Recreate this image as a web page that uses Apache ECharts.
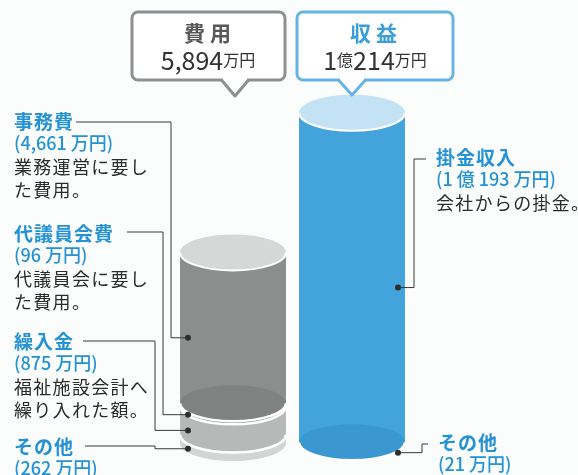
<!DOCTYPE html>
<html><head><meta charset="utf-8">
<script src="https://cdn.jsdelivr.net/npm/echarts@6/dist/echarts.min.js"></script>
<style>html,body{margin:0;padding:0;background:#fbfcfc}#c{width:578px;height:475px}</style>
</head><body><div id="c"></div>
<script>
// ---- data ----
const categories = ['費用', '収益'];
const expenseNames = ['その他', '繰入金', '代議員会費', '事務費'];
const expenseValues = [262, 875, 96, 4661];
const expenseNotes = [[], ['福祉施設会計へ', '繰り入れた額。'], ['代議員会に要し', 'た費用。'], ['業務運営に要し', 'た費用。']];
const revenueNames = ['その他', '掛金収入'];
const revenueValues = [21, 10193];
const revenueNotes = [[], ['会社からの掛金。']];

// ---- styles ----
const FONT = '"Noto Sans CJK JP", "Noto Sans", sans-serif';
const BLUE_TXT = '#2492d3';
const segStyles = [
  {body: '#d3d5d4', bottom: true},
  {body: '#b7b9b8'},
  {body: '#979999'},
  {body: '#8b8e8d', inner: '#7e8281', top: '#d6d8d8'},
  {body: '#c8e4f3', bottom: true},
  {body: '#43a3db', inner: '#3a97cf', top: '#c3e2f4'}
];
const RY = 18;

function sum(a) { return a.reduce((s, v) => s + v, 0); }
function fmtAmount(v) {
  if (v >= 10000) return '(' + Math.floor(v / 10000) + ' 億 ' + (v % 10000) + ' 万円)';
  return '(' + v.toLocaleString('en-US') + ' 万円)';
}

const data = [];
let acc = 0;
expenseValues.forEach((v, j) => { data.push([0, acc, acc + v, j]); acc += v; });
acc = 0;
revenueValues.forEach((v, j) => { data.push([1, acc, acc + v, 4 + j]); acc += v; });

function ellipsePath(cx, cy, rx, ry) {
  return `M${cx - rx},${cy} A${rx},${ry} 0 1 0 ${cx + rx},${cy} A${rx},${ry} 0 1 0 ${cx - rx},${cy} Z`;
}
function lowerArc(cx, cy, rx, ry) {
  return `M${cx - rx},${cy} A${rx},${ry} 0 0 0 ${cx + rx},${cy}`;
}

function renderItem(params, api) {
  const cat = api.value(0);
  const p0 = api.coord([cat, api.value(1)]);
  const p1 = api.coord([cat, api.value(2)]);
  const st = segStyles[api.value(3)];
  const cx = p0[0], yb = p0[1], yt = p1[1];
  const rx = api.size([1, 0])[0] * 0.445;
  const ch = [];
  ch.push({type: 'path', shape: {pathData:
    `M${cx - rx},${yt} L${cx + rx},${yt} L${cx + rx},${yb} A${rx},${RY} 0 0 1 ${cx - rx},${yb} Z`},
    style: {fill: st.body}});
  if (st.inner) ch.push({type: 'path', shape: {pathData: ellipsePath(cx, yb, rx, RY)}, style: {fill: st.inner}});
  if (!st.bottom) ch.push({type: 'path', shape: {pathData: lowerArc(cx, yb, rx, RY)},
    style: {fill: null, stroke: '#ffffff', lineWidth: 2.5}});
  if (st.top) {
    ch.push({type: 'path', shape: {pathData: ellipsePath(cx, yt, rx, RY)}, style: {fill: st.top}});
    ch.push({type: 'path', shape: {pathData: lowerArc(cx, yt, rx, RY)},
      style: {fill: null, stroke: '#ffffff', lineWidth: 2}});
  }
  return {type: 'group', children: ch};
}

const chart = echarts.init(document.getElementById('c'), null, {renderer: 'canvas'});
chart.setOption({
  backgroundColor: '#fbfcfc',
  animation: false,
  grid: {left: 173.5, width: 238, top: 55, height: 388},
  xAxis: {type: 'category', data: categories, show: false},
  yAxis: {type: 'value', min: 0, max: 12000, show: false},
  series: [{type: 'custom', renderItem: renderItem, data: data, clip: false}]
});

// ---- annotations ----
const g = [];
function txt(x, y, text, font, fill, align) {
  g.push({type: 'text', z: 10, style: {x: x, y: y, text: text, font: font, fill: fill,
    align: align || 'left', verticalAlign: 'middle'}});
}
// text with letter spacing (one rich token per character)
function spaced(x, y, text, font, fill, sp, align) {
  const s = Array.from(text).map(c => '{c|' + c + '}').join('');
  g.push({type: 'text', z: 10, style: {x: x, y: y, text: s, align: align || 'left', verticalAlign: 'middle',
    rich: {c: {font: font, fill: fill, padding: [0, sp, 0, 0]}}}});
}
function line(points) {
  g.push({type: 'polyline', z: 9, shape: {points: points}, style: {stroke: '#3a3a3a', lineWidth: 1, fill: null}});
}
function dot(x, y) {
  g.push({type: 'circle', z: 11, shape: {cx: x, cy: y, r: 3}, style: {fill: '#2e2e2e'}});
}
function callout(x0, x1, y0, y1, tipX, tipY, color) {
  g.push({type: 'rect', z: 8, shape: {x: x0, y: y0, width: x1 - x0, height: y1 - y0, r: 6},
    style: {fill: '#ffffff', stroke: color, lineWidth: 3}});
  g.push({type: 'rect', z: 8, shape: {x: tipX - 12, y: y1 - 2.5, width: 24, height: 5},
    style: {fill: '#ffffff'}});
  g.push({type: 'polygon', z: 8, shape: {points: [[tipX - 12, y1], [tipX, tipY], [tipX + 12, y1]]},
    style: {fill: '#ffffff'}});
  g.push({type: 'polyline', z: 8, shape: {points: [[tipX - 13.5, y1], [tipX, tipY], [tipX + 13.5, y1]]},
    style: {fill: null, stroke: color, lineWidth: 3, lineJoin: 'round'}});
}

// callouts
const expTotal = sum(expenseValues);
const revTotal = sum(revenueValues);
callout(132, 285, 12, 80, 235, 96, '#8e8f8f');
callout(297, 453, 12, 80, 352, 95, '#66b4e0');
spaced(210, 33, categories[0], 'bold 21px ' + FONT, '#595959', 5, 'center');
spaced(376, 33, categories[1], 'bold 21px ' + FONT, '#3a9ed8', 5, 'center');
g.push({type: 'text', z: 10, style: {x: 208, y: 60, align: 'center', verticalAlign: 'middle',
  text: '{n|' + expTotal.toLocaleString('en-US') + '}{u|万円}',
  rich: {n: {font: '25px ' + FONT, fill: '#333'}, u: {font: '16px ' + FONT, fill: '#333'}}}});
g.push({type: 'text', z: 10, style: {x: 375, y: 60, align: 'center', verticalAlign: 'middle',
  text: '{n|' + Math.floor(revTotal / 10000) + '}{u|億}{n|' + (revTotal % 10000) + '}{u|万円}',
  rich: {n: {font: '25px ' + FONT, fill: '#333'}, u: {font: '16px ' + FONT, fill: '#333'}}}});

// left labels
const expLabelPos = [
  {ty: 447, lx: 85, ly: 446, bend: 155},
  {ty: 342, lx: 83, ly: 341, bend: 155},
  {ty: 234, lx: 127, ly: 232, bend: 163},
  {ty: 122, lx: 76, ly: 122, bend: 171}
];
let cum = 0;
expenseValues.forEach((v, j) => {
  const mid = cum + v / 2; cum += v;
  const p = chart.convertToPixel({seriesIndex: 0}, [0, mid]);
  const dx = p[0] - 45, dy = p[1] + 10;
  const L = expLabelPos[j];
  spaced(14, L.ty, expenseNames[j], 'bold 19px ' + FONT, BLUE_TXT, 1);
  txt(14, L.ty + 21.5, fmtAmount(v), '500 18px ' + FONT, BLUE_TXT);
  expenseNotes[j].forEach((s, k) => spaced(14, L.ty + 45 + 23 * k, s, '18px ' + FONT, '#2b2b2b', 1.3));
  line([[L.lx, L.ly], [L.bend, L.ly], [L.bend, dy], [dx, dy]]);
  dot(dx, dy);
});

// right labels
const revLabelPos = [
  {tx: 438, ty: 443, bend: 422, ly: 444},
  {tx: 436, ty: 158, bend: 414, ly: 159}
];
cum = 0;
revenueValues.forEach((v, j) => {
  const mid = cum + v / 2; cum += v;
  const p = chart.convertToPixel({seriesIndex: 0}, [1, mid]);
  const dx = p[0] + 46, dy = p[1] + 10;
  const L = revLabelPos[j];
  spaced(L.tx, L.ty, revenueNames[j], 'bold 19px ' + FONT, BLUE_TXT, 1);
  txt(L.tx, L.ty + 21.5, fmtAmount(v), '500 18px ' + FONT, BLUE_TXT);
  revenueNotes[j].forEach((s, k) => spaced(L.tx, L.ty + 45 + 23 * k, s, '18px ' + FONT, '#2b2b2b', 1.3));
  line([[dx, dy], [L.bend, dy], [L.bend, L.ly], [L.tx - 10, L.ly]]);
  dot(dx, dy);
});

chart.setOption({graphic: g});
</script>
</body></html>
